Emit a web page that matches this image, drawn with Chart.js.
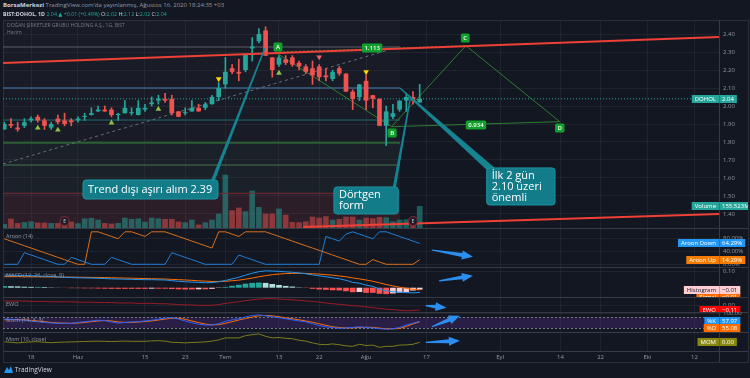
<!DOCTYPE html>
<html>
<head>
<meta charset="utf-8">
<script src="https://cdn.jsdelivr.net/npm/chart.js@4.4.1/dist/chart.umd.min.js"></script>
<style>
html, body { margin: 0; padding: 0; background: #131722; width: 750px; height: 378px; overflow: hidden; font-family: 'Open Sans', 'DejaVu Sans', sans-serif; }
#wrap { position: relative; width: 750px; height: 378px; }
canvas { position: absolute; left: 3px; }
.t { position: absolute; white-space: nowrap; color: #9598a1; font-size: 6px; line-height: 8px; }
.g { color: #26a69a; }
#frame { position: absolute; left: 3px; top: 20px; width: 744px; height: 341px; border: 1px solid #2a2e39; box-sizing: content-box; }
.sep { position: absolute; left: 3px; width: 745px; height: 1px; background: #363a45; }
#axisline { position: absolute; left: 719px; top: 20px; width: 1px; height: 342px; background: #363a45; }
</style>
</head>
<body>
<div id="wrap">
  <div id="frame"></div>
  <div class="sep" style="top:228px"></div>
  <div class="sep" style="top:267px"></div>
  <div class="sep" style="top:297px"></div>
  <div class="sep" style="top:312px"></div>
  <div class="sep" style="top:332px"></div>
  <div class="sep" style="top:351px"></div>
  <div id="axisline"></div>

  <canvas id="mainChart" width="745" height="208" style="top:20px"></canvas>
  <canvas id="aroonChart" width="745" height="39" style="top:228px"></canvas>
  <canvas id="macdChart" width="745" height="30" style="top:267px"></canvas>
  <canvas id="ewoChart" width="745" height="15" style="top:297px"></canvas>
  <canvas id="stochChart" width="745" height="20" style="top:312px"></canvas>
  <canvas id="momChart" width="745" height="30" style="top:332px"></canvas>

  <div class="t" style="left:3px;top:1px;font-size:6px"><b style="color:#d1d4dc">BorsaMerkezi</b> TradingView.com'da yayınlanmış, Ağustos 16, 2020 18:24:35 +03</div>
  <div class="t" style="left:3px;top:10px;color:#d1d4dc;font-size:5.3px"><b>BIST:DOHOL, 1D</b> <span class="g">2.04 ▲ +0.01 (+0.49%)</span> O:<span class="g">2.02</span> H:<span class="g">2.12</span> L:<span class="g">2.02</span> C:<span class="g">2.04</span></div>
  <div class="t" style="left:7px;top:21px;font-size:5px;color:#787b86">DOĞAN ŞİRKETLER GRUBU HOLDİNG A.Ş., 1G, BIST</div>
  <div class="t" style="left:7px;top:28px;font-size:5px;color:#787b86">Hacim</div>
  <div class="t" style="left:6px;top:232px;font-size:5.5px">Aroon (14)</div>
  <div class="t" style="left:6px;top:271px;font-size:5.5px">MACD (12, 26, close, 9)</div>
  <div class="t" style="left:6px;top:300px;font-size:5.5px">EWO</div>
  <div class="t" style="left:6px;top:316px;font-size:5.5px">Stoch (14, 3, 3)</div>
  <div class="t" style="left:6px;top:335px;font-size:5.5px">Mom (10, close)</div>
  <div class="t" style="left:4px;top:366px;color:#d1d4dc;font-size:6.5px">
    <svg width="9" height="7" style="vertical-align:-1px"><path d="M0 7 L3 1 L5 4 L7 0 L9 7 Z" fill="#2196f3"/></svg> TradingView
  </div>
</div>

<script>
// ---- price data (daily candles, BIST:DOHOL) ----
const opens  = [1.87,1.90,1.88,1.89,1.92,1.94,1.92,1.88,1.93,1.92,1.92,1.92,1.94,1.95,1.97,1.98,1.98,1.95,1.96,1.96,1.95,1.98,2.01,2.03,2.04,2.04,1.97,1.96,1.97,1.99,1.99,2.01,2.05,2.12,2.21,2.19,2.20,2.32,2.36,2.42,2.27,2.23,2.26,2.27,2.24,2.22,2.21,2.22,2.17,2.15,2.21,2.18,2.08,2.05,2.14,2.06,2.04,1.89,1.94,1.98,2.03,2.05,2.02];
const highs  = [1.91,1.93,1.91,1.93,1.94,1.95,1.93,1.91,1.95,1.96,1.93,1.94,1.96,1.99,2.00,2.00,1.99,1.96,2.03,1.99,2.03,2.01,2.05,2.06,2.07,2.06,1.97,1.99,2.03,2.01,2.02,2.06,2.13,2.27,2.23,2.26,2.29,2.38,2.43,2.44,2.27,2.28,2.28,2.28,2.25,2.23,2.25,2.23,2.21,2.20,2.22,2.18,2.09,2.12,2.17,2.06,2.04,2.00,2.01,2.03,2.07,2.08,2.12];
const lows   = [1.87,1.88,1.86,1.88,1.91,1.91,1.87,1.87,1.90,1.89,1.89,1.91,1.92,1.95,1.97,1.97,1.94,1.92,1.96,1.95,1.95,1.97,2.00,2.01,2.02,1.95,1.94,1.95,1.97,1.97,1.98,2.01,2.03,2.10,2.18,2.14,2.19,2.25,2.35,2.28,2.16,2.22,2.23,2.22,2.20,2.18,2.12,2.14,2.14,2.14,2.17,2.08,1.98,2.03,1.98,1.99,1.89,1.78,1.93,1.97,1.97,2.01,2.02];
const closes = [1.90,1.89,1.87,1.91,1.93,1.92,1.89,1.90,1.91,1.90,1.91,1.93,1.94,1.96,1.98,1.97,1.95,1.95,1.99,1.96,1.99,1.99,2.02,2.04,2.03,1.96,1.94,1.96,1.99,1.97,2.01,2.05,2.10,2.19,2.19,2.18,2.29,2.33,2.40,2.28,2.20,2.27,2.24,2.23,2.22,2.19,2.17,2.16,2.16,2.19,2.18,2.08,2.04,2.12,2.03,2.04,1.89,1.97,1.96,2.03,2.05,2.03,2.04];
// volume in millions
const volumes = [28,66,35,42,47,38,38,35,35,40,45,33,68,71,59,35,31,35,73,64,68,45,73,68,64,64,45,40,59,24,40,59,101,377,125,144,118,264,148,101,101,137,94,42,40,47,80,73,83,59,64,80,80,59,73,68,78,75,47,59,61,55,155.523];

// ---- indicators ----
const aroonUp   = [78.6,71.4,64.3,57.1,50,42.9,35.7,28.6,21.4,14.3,7.1,0,0,100,100,92.9,85.7,78.6,100,100,92.9,85.7,100,100,100,92.9,85.7,78.6,71.4,64.3,57.1,50,100,100,92.9,85.7,100,100,100,100,92.9,85.7,78.6,71.4,64.3,57.1,50,42.9,35.7,28.6,21.4,14.3,7.1,0,0,14.3,7.1,0,0,0,0,0,14.29];
const aroonDown = [0,0,0,35.7,28.6,21.4,14.3,7.1,0,0,21.4,14.3,7.1,0,0,0,21.4,14.3,7.1,0,0,0,0,0,0,35.7,28.6,21.4,14.3,7.1,0,0,0,0,0,28.6,21.4,14.3,7.1,0,0,0,0,0,0,0,0,0,85.7,78.6,71.4,92.9,100,92.9,85.7,78.6,100,100,92.9,85.7,78.6,71.4,64.29];
const macdLine   = [.079,.078,.077,.076,.075,.073,.071,.069,.067,.065,.063,.062,.061,.060,.059,.057,.055,.054,.053,.052,.051,.050,.050,.049,.048,.044,.040,.037,.035,.033,.031,.032,.037,.045,.055,.065,.078,.090,.100,.105,.104,.102,.099,.096,.092,.087,.080,.074,.068,.062,.056,.046,.033,.028,.016,.008,-.008,-.020,-.025,-.028,-.031,-.032,-.030];
const signalLine = [.069,.069,.069,.068,.068,.068,.067,.067,.066,.066,.066,.065,.065,.064,.064,.063,.062,.061,.060,.059,.058,.057,.056,.055,.054,.052,.050,.048,.046,.043,.041,.039,.039,.040,.043,.047,.053,.060,.068,.075,.081,.085,.088,.089,.090,.089,.087,.085,.081,.078,.073,.068,.061,.055,.048,.040,.030,.020,.011,.003,-.004,-.010,-.014];
const histogram  = [.010,.009,.008,.006,.005,.005,.004,.002,.001,-.001,-.003,-.003,-.004,-.004,-.005,-.006,-.007,-.007,-.007,-.007,-.007,-.007,-.006,-.006,-.006,-.008,-.010,-.011,-.011,-.010,-.010,-.007,-.002,.005,.012,.018,.025,.030,.032,.030,.023,.017,.011,.007,.002,-.002,-.007,-.011,-.013,-.016,-.017,-.022,-.028,-.027,-.032,-.032,-.038,-.040,-.036,-.031,-.027,-.018,-.012];
const ewo    = [.12,.12,.12,.12,.11,.11,.11,.10,.10,.10,.10,.09,.09,.09,.08,.08,.08,.07,.07,.07,.06,.06,.06,.05,.05,.04,.03,.02,.02,.01,.01,.01,.03,.06,.08,.10,.13,.15,.17,.18,.18,.17,.16,.15,.14,.12,.11,.09,.07,.05,.035,.02,.0,-.01,-.03,-.05,-.07,-.09,-.10,-.12,-.13,-.125,-.11];
const stochK = [69,68,66,64,60,56,52,49,47,48,47,52,56,60,64,62,55,48,52,55,56,60,64,70,76,78,70,60,50,42,38,38,45,58,66,72,82,90,93,88,82,78,72,66,60,55,45,35,28,24,20,22,25,28,24,22,18,15,17,25,38,48,57.97];
const stochD = [66,67,67,66,63,60,56,52,49,48,47,49,52,56,60,62,60,55,52,52,54,57,60,65,70,75,75,69,60,51,43,39,40,47,56,65,73,81,88,90,88,83,77,72,66,60,53,45,36,29,24,22,22,25,26,25,21,18,17,19,30,44,55.08];
const mom    = [.02,.00,-.03,.00,.02,.03,.00,-.02,.00,.01,.02,.03,.04,.05,.06,.05,.04,.05,.06,.05,.05,.05,.07,.08,.06,.00,-.01,-.03,-.01,.00,.02,.06,.12,.22,.22,.22,.33,.38,.42,.30,.22,.24,.20,.18,.10,.06,-.03,-.10,-.12,-.08,-.12,-.18,-.20,-.10,-.16,-.14,-.25,-.20,-.20,-.14,-.13,-.10,.00];

// ---- axis ticks ----
const xTickIdx    = [4, 11, 21, 27, 33, 41, 47, 54, 63, 74, 83, 89, 96, 103];
const xTickLabels = ['18', 'Haz', '15', '23', 'Tem', '13', '22', 'Ağu', '17', 'Eyl', '14', '22', 'Eki', '12'];
const priceTicks  = [1.40, 1.50, 1.60, 1.70, 1.80, 1.90, 2.00, 2.10, 2.20, 2.30, 2.40];
const X_MIN = -0.19, X_MAX = 106.67;

// ---- drawings on the price pane (index, price) ----
const levelPrices = [2.328, 2.10, 1.922, 1.796, 1.672, 1.515];
const zoneEnd = 59.06;
const upperTrend = [[X_MIN, 2.239], [X_MAX, 2.383]];
const lowerTrend = [[44.6, 1.328], [X_MAX, 1.40]];
const dashedTrend = [[X_MIN, 1.678], [57.3, 2.311]];
const patA = [40.4, 2.30], patB = [57.8, 1.885], patC = [68.9, 2.335], patD = [82.9, 1.913];
const upSignalIdx = [5, 8, 16, 23, 41], upSignalPrice = [1.878, 1.867, 1.906, 1.983, 2.183];
const downSignalIdx = [32, 54], downSignalPrice = [2.15, 2.189];
const redSignalIdx = [47], redSignalPrice = [2.272];
const earningsIdx = [9, 61];

Chart.defaults.font.family = "'Open Sans', 'DejaVu Sans', sans-serif";
Chart.defaults.animation = false;
Chart.defaults.events = [];
Chart.defaults.plugins.legend.display = false;
Chart.defaults.plugins.tooltip.enabled = false;

const gridColor = 'rgba(54,58,69,0.35)';
const idx = closes.map((c, i) => i);
const isUp = closes.map((c, i) => c >= opens[i]);
const candleColor = isUp.map(u => u ? '#26a69a' : '#ef5350');
const volColor = isUp.map(u => u ? 'rgba(38,166,154,0.5)' : 'rgba(239,83,80,0.5)');

function xScale(showTicks) {
    return {
        type: 'linear', min: X_MIN, max: X_MAX, offset: false,
        afterBuildTicks: s => { s.ticks = xTickIdx.map(v => ({ value: v })); },
        afterFit: s => { s.height = showTicks ? 11 : 0; s.paddingLeft = 0; s.paddingRight = 0; },
        grid: { color: gridColor, drawTicks: false, offset: false },
        border: { display: false },
        ticks: { display: showTicks, autoSkip: false, maxRotation: 0, padding: 3, color: '#9598a1', font: { size: 6 },
                 callback: (v, i) => xTickLabels[i] }
    };
}

function yScale(min, max, ticks, fmt) {
    return {
        type: 'linear', position: 'right', min: min, max: max,
        afterBuildTicks: s => { s.ticks = ticks.map(v => ({ value: v })); },
        afterFit: s => { s.width = 29; s.paddingTop = 0; s.paddingBottom = 0; },
        grid: { color: gridColor, drawTicks: false },
        border: { display: false },
        ticks: { color: '#9598a1', font: { size: 6 }, padding: 4, callback: fmt }
    };
}

function seg(points, color, width, dash, order) {
    return { type: 'line', data: points.map(p => ({ x: p[0], y: p[1] })), borderColor: color, borderWidth: width,
             borderDash: dash || [], pointRadius: 0, tension: 0, order: order };
}

function fmtSigned(v) { return (v < 0 ? '\u2212' : '') + Math.abs(v).toFixed(2); }

// value label on the right axis
function drawTag(ctx, ch, yPix, name, val, bg, fg) {
    const ax = ch.chartArea.right;
    ctx.save();
    ctx.font = "6px 'Open Sans'";
    const wn = ctx.measureText(name).width + 6;
    const wv = ctx.measureText(val).width + 6;
    const top = Math.round(yPix - 4);
    ctx.fillStyle = bg;
    ctx.fillRect(ax - wn, top, wn + wv, 8);
    ctx.fillStyle = 'rgba(0,0,0,0.2)';
    ctx.fillRect(ax, top, 1, 8);
    ctx.fillStyle = fg;
    ctx.textBaseline = 'middle';
    ctx.fillText(name, ax - wn + 3, top + 4.3);
    ctx.fillText(val, ax + 3, top + 4.3);
    ctx.restore();
}

function drawArrow(ctx, x0, y0, x1, y1) {
    const L = Math.hypot(x1 - x0, y1 - y0), ux = (x1 - x0) / L, uy = (y1 - y0) / L, nx = -uy, ny = ux;
    const hl = 11, hw = 4.5, s0 = 0.6, s1 = 2;
    const bx = x1 - ux * hl, by = y1 - uy * hl;
    ctx.fillStyle = '#2a8ff0';
    ctx.beginPath();
    ctx.moveTo(x0 + nx * s0, y0 + ny * s0);
    ctx.lineTo(bx + nx * s1, by + ny * s1);
    ctx.lineTo(bx + nx * hw, by + ny * hw);
    ctx.lineTo(x1, y1);
    ctx.lineTo(bx - nx * hw, by - ny * hw);
    ctx.lineTo(bx - nx * s1, by - ny * s1);
    ctx.lineTo(x0 - nx * s0, y0 - ny * s0);
    ctx.closePath();
    ctx.fill();
}

function arrowPlugin(from, to) {
    return {
        id: 'arrow',
        afterDatasetsDraw(ch) {
            const x = ch.scales.x, y = ch.scales.y;
            ch.ctx.save();
            drawArrow(ch.ctx, x.getPixelForValue(from[0]), y.getPixelForValue(from[1]), x.getPixelForValue(to[0]), y.getPixelForValue(to[1]));
            ch.ctx.restore();
        }
    };
}

function tagPlugin(tags) {
    return {
        id: 'tags',
        afterDraw(ch) {
            tags.forEach(t => drawTag(ch.ctx, ch, ch.scales[t.axis || 'y'].getPixelForValue(t.value) + (t.shift || 0), t.name, t.text, t.bg, t.fg || '#ffffff'));
        }
    };
}

function roundBox(ctx, x, y, w, h, r) {
    ctx.beginPath();
    ctx.roundRect(x, y, w, h, r);
}

// ---- price pane ----
const callouts = [
    { lines: ['Trend dışı aşırı alım 2.39'], box: [11.75, 31.9, 1.589, 1.483], base: [31.1, 1.583], tip: [38.9, 2.322], w: 1.8 },
    { lines: ['Dörtgen', 'form'], box: [49.2, 58.8, 1.55, 1.40], base: [58.2, 1.544], tip: [60.6, 2.044], w: 1.6 },
    { lines: ['İlk 2 gün', '2.10 üzeri', 'önemli'], box: [72.0, 82.2, 1.656, 1.45], base: [72.8, 1.644], tip: [59.06, 2.10], w: 3.5 }
];
const patternLabels = [
    { text: 'A', at: [40.85, 2.328] }, { text: 'B', at: [57.9, 1.85] },
    { text: 'C', at: [68.8, 2.378] }, { text: 'D', at: [82.9, 1.878] },
    { text: '1.113', at: [54.9, 2.322] }, { text: '0.934', at: [70.4, 1.894] }
];

const mainDeco = {
    id: 'mainDeco',
    beforeDatasetsDraw(ch) {
        const ctx = ch.ctx, a = ch.chartArea, x = ch.scales.x, y = ch.scales.y;
        const xe = x.getPixelForValue(zoneEnd);
        ctx.save();
        ctx.fillStyle = 'rgba(134,137,147,0.05)';
        ctx.fillRect(a.left, a.top, xe - a.left, a.height);
        let y0 = y.getPixelForValue(levelPrices[3]), y1 = y.getPixelForValue(levelPrices[5]);
        ctx.fillStyle = 'rgba(76,175,80,0.035)';
        ctx.fillRect(a.left, y0, xe - a.left, y1 - y0);
        ctx.fillStyle = 'rgba(242,54,69,0.09)';
        ctx.fillRect(a.left, y1, xe - a.left, a.bottom - y1);
        ctx.restore();
    },
    afterDatasetsDraw(ch) {
        const ctx = ch.ctx, x = ch.scales.x, y = ch.scales.y;
        ctx.save();
        // earnings markers
        earningsIdx.forEach(i => {
            const cx = x.getPixelForValue(i), cy = y.getPixelForValue(1.361);
            ctx.beginPath(); ctx.arc(cx, cy, 4.5, 0, Math.PI * 2);
            ctx.fillStyle = '#1e1d29'; ctx.fill();
            ctx.lineWidth = 1.2; ctx.strokeStyle = '#7a2c36'; ctx.stroke();
            ctx.fillStyle = '#c9ccd4'; ctx.font = "5px 'Open Sans'"; ctx.textAlign = 'center'; ctx.textBaseline = 'middle';
            ctx.fillText('E', cx, cy + 0.3);
        });
        // pattern labels
        ctx.font = "600 6px 'Open Sans'";
        patternLabels.forEach(p => {
            const cx = x.getPixelForValue(p.at[0]), cy = y.getPixelForValue(p.at[1]);
            const w = ctx.measureText(p.text).width + 5;
            roundBox(ctx, cx - w / 2, cy - 4.5, w, 9, 1.5);
            ctx.fillStyle = '#12a02c'; ctx.fill();
            ctx.fillStyle = '#ffffff'; ctx.textAlign = 'center'; ctx.textBaseline = 'middle';
            ctx.fillText(p.text, cx, cy + 0.3);
        });
        // callouts
        callouts.forEach(c => {
            const bx = x.getPixelForValue(c.base[0]), by = y.getPixelForValue(c.base[1]);
            const tx = x.getPixelForValue(c.tip[0]), ty = y.getPixelForValue(c.tip[1]);
            const ang = Math.atan2(ty - by, tx - bx), nx = -Math.sin(ang), ny = Math.cos(ang);
            ctx.fillStyle = '#168391';
            ctx.beginPath();
            ctx.moveTo(bx + nx * c.w, by + ny * c.w);
            ctx.lineTo(tx + nx * 0.7, ty + ny * 0.7);
            ctx.lineTo(tx - nx * 0.7, ty - ny * 0.7);
            ctx.lineTo(bx - nx * c.w, by - ny * c.w);
            ctx.closePath(); ctx.fill();
            const x0 = x.getPixelForValue(c.box[0]), x1 = x.getPixelForValue(c.box[1]);
            const y0 = y.getPixelForValue(c.box[2]), y1 = y.getPixelForValue(c.box[3]);
            roundBox(ctx, x0, y0, x1 - x0, y1 - y0, 3);
            ctx.fillStyle = '#137c89'; ctx.fill();
            ctx.lineWidth = 1; ctx.strokeStyle = '#1d93a2'; ctx.stroke();
            ctx.fillStyle = '#ffffff'; ctx.font = "11px 'Open Sans'"; ctx.textAlign = 'left'; ctx.textBaseline = 'middle';
            const lh = 11, mid = (y0 + y1) / 2, first = mid - (c.lines.length - 1) * lh / 2;
            c.lines.forEach((s, k) => ctx.fillText(s, x0 + 5, first + k * lh));
        });
        ctx.restore();
    }
};

const levelColors = ['#5d606b', '#4a7fb5', '#1f6e6e', '#2b5e36', '#4a7456', '#7a2b34'];
const levelWidths = [1, 1, 1, 2, 1, 1];
const levelSets = levelPrices.map((p, k) => seg([[X_MIN, p], [zoneEnd, p]], levelColors[k], levelWidths[k], [], 8));

new Chart(document.getElementById('mainChart'), {
    type: 'bar',
    data: {
        datasets: [
            { type: 'bar', data: volumes.map((v, i) => ({ x: i, y: v })), yAxisID: 'yv', backgroundColor: volColor,
              barPercentage: 0.84, categoryPercentage: 1, grouped: false, order: 9 },
            ...levelSets,
            seg([[X_MIN, closes[62]], [X_MAX, closes[62]]], '#26a69a', 1, [1, 2], 7),
            seg(dashedTrend, '#6a6d78', 1, [3, 3], 6),
            seg([patA, patC], '#2e7d32', 1, [2, 2], 5),
            seg([patA, patB, patC, patD], '#2e7d32', 1, [], 5),
            seg([patB, patD], '#2e7d32', 1, [], 5),
            { type: 'bar', data: idx.map(i => ({ x: i, y: [lows[i], highs[i]] })), backgroundColor: candleColor,
              barThickness: 1, grouped: false, order: 4 },
            { type: 'bar', data: idx.map(i => ({ x: i, y: [opens[i], closes[i]] })), backgroundColor: candleColor,
              barPercentage: 0.7, categoryPercentage: 1, grouped: false, minBarLength: 1, order: 3 },
            seg(upperTrend, '#ef4136', 2, [], 2),
            seg(lowerTrend, '#ef4136', 2, [], 2),
            { type: 'scatter', data: upSignalIdx.map((v, k) => ({ x: v, y: upSignalPrice[k] })), pointStyle: 'triangle',
              radius: 3.3, backgroundColor: '#8bc34a', borderWidth: 0, order: 1 },
            { type: 'scatter', data: downSignalIdx.map((v, k) => ({ x: v, y: downSignalPrice[k] })), pointStyle: 'triangle',
              rotation: 180, radius: 3.3, backgroundColor: '#ffd600', borderWidth: 0, order: 1 },
            { type: 'scatter', data: redSignalIdx.map((v, k) => ({ x: v, y: redSignalPrice[k] })), pointStyle: 'triangle',
              rotation: 180, radius: 3.3, backgroundColor: '#f2606a', borderWidth: 0, order: 1 }
        ]
    },
    options: {
        responsive: false, devicePixelRatio: 1,
        layout: { padding: 0, autoPadding: false },
        scales: {
            x: xScale(false),
            y: yScale(1.322, 2.478, priceTicks, v => v.toFixed(2)),
            yv: { type: 'linear', display: false, min: 0, max: 1470 }
        }
    },
    plugins: [mainDeco, tagPlugin([
        { value: closes[62], name: 'DOHOL', text: closes[62].toFixed(2), bg: '#26a69a' },
        { axis: 'yv', value: volumes[62], name: 'Volume', text: volumes[62].toFixed(3) + 'M', bg: '#26a69a' }
    ])]
});

// ---- Aroon ----
new Chart(document.getElementById('aroonChart'), {
    type: 'line',
    data: {
        datasets: [
            { data: aroonUp.map((v, i) => ({ x: i, y: v })), borderColor: '#d9701c', borderWidth: 1, pointRadius: 0 },
            { data: aroonDown.map((v, i) => ({ x: i, y: v })), borderColor: '#1f7fd6', borderWidth: 1, pointRadius: 0 }
        ]
    },
    options: {
        responsive: false, devicePixelRatio: 1, layout: { padding: 0, autoPadding: false },
        scales: { x: xScale(false), y: yScale(-8.3, 111.7, [0, 40, 80], v => v.toFixed(2) + '%') }
    },
    plugins: [arrowPlugin([63.8, 44], [69.95, 23.4]), tagPlugin([
        { value: aroonDown[62], name: 'Aroon Down', text: aroonDown[62].toFixed(2) + '%', bg: '#2196f3' },
        { value: aroonUp[62], name: 'Aroon Up', text: aroonUp[62].toFixed(2) + '%', bg: '#f57c00' }
    ])]
});

// ---- MACD ----
const histColor = histogram.map((v, i) => {
    const prev = i > 0 ? histogram[i - 1] : v;
    if (v >= 0) return v >= prev ? '#26a69a' : '#b2dfdb';
    return v <= prev ? '#ff5252' : '#ffcdd2';
});
new Chart(document.getElementById('macdChart'), {
    type: 'bar',
    data: {
        datasets: [
            { type: 'bar', data: histogram.map((v, i) => ({ x: i, y: v })), backgroundColor: histColor,
              barPercentage: 0.85, categoryPercentage: 1, grouped: false, order: 3 },
            { type: 'line', data: macdLine.map((v, i) => ({ x: i, y: v })), borderColor: '#2196f3', borderWidth: 1, pointRadius: 0, order: 1 },
            { type: 'line', data: signalLine.map((v, i) => ({ x: i, y: v })), borderColor: '#ff6d00', borderWidth: 1, pointRadius: 0, order: 2 }
        ]
    },
    options: {
        responsive: false, devicePixelRatio: 1, layout: { padding: 0, autoPadding: false },
        scales: { x: xScale(false), y: yScale(-0.058, 0.129, [0.10], v => v.toFixed(2)) }
    },
    plugins: [arrowPlugin([64.9, 0.042], [69.95, 0.075]), tagPlugin([
        { value: signalLine[62], shift: 7, name: 'Signal', text: fmtSigned(signalLine[62]), bg: '#ff6d00' },
        { value: histogram[62], name: 'Histogram', text: fmtSigned(histogram[62]), bg: '#ffcdd2', fg: '#131722' }
    ])]
});

// ---- EWO ----
new Chart(document.getElementById('ewoChart'), {
    type: 'line',
    data: { datasets: [{ data: ewo.map((v, i) => ({ x: i, y: v })), borderColor: '#9b1c22', borderWidth: 1, pointRadius: 0 }] },
    options: {
        responsive: false, devicePixelRatio: 1, layout: { padding: 0, autoPadding: false },
        scales: { x: xScale(false), y: yScale(-0.162, 0.223, [0], v => v.toFixed(2)) }
    },
    plugins: [arrowPlugin([62.9, 0], [66.0, -0.051]), tagPlugin([
        { value: ewo[62], name: 'EWO', text: fmtSigned(ewo[62]), bg: '#ff0000' }
    ])]
});

// ---- Stoch ----
const stochBand = {
    id: 'stochBand',
    beforeDatasetsDraw(ch) {
        const ctx = ch.ctx, a = ch.chartArea, y = ch.scales.y;
        const y80 = y.getPixelForValue(80), y20 = y.getPixelForValue(20);
        ctx.save();
        ctx.fillStyle = 'rgba(120,60,200,0.22)';
        ctx.fillRect(a.left, y80, a.width, y20 - y80);
        ctx.strokeStyle = '#787b86'; ctx.lineWidth = 1; ctx.setLineDash([2, 2]);
        [y80, y20].forEach(v => { ctx.beginPath(); ctx.moveTo(a.left, Math.round(v) + 0.5); ctx.lineTo(a.right, Math.round(v) + 0.5); ctx.stroke(); });
        ctx.restore();
    }
};
new Chart(document.getElementById('stochChart'), {
    type: 'line',
    data: {
        datasets: [
            { data: stochK.map((v, i) => ({ x: i, y: v })), borderColor: '#2962ff', borderWidth: 1, pointRadius: 0 },
            { data: stochD.map((v, i) => ({ x: i, y: v })), borderColor: '#ff6d00', borderWidth: 1, pointRadius: 0 }
        ]
    },
    options: {
        responsive: false, devicePixelRatio: 1, layout: { padding: 0, autoPadding: false },
        scales: { x: xScale(false), y: yScale(0, 108.7, [100], v => v.toFixed(2)) }
    },
    plugins: [stochBand, arrowPlugin([63.8, 28.8], [68.0, 88.6]), tagPlugin([
        { value: stochK[62], name: '%K', text: stochK[62].toFixed(2), bg: '#2196f3' },
        { value: stochD[62], shift: 6.5, name: '%D', text: stochD[62].toFixed(2), bg: '#ff6d00' }
    ])]
});

// ---- Momentum + time axis ----
new Chart(document.getElementById('momChart'), {
    type: 'line',
    data: { datasets: [{ data: mom.map((v, i) => ({ x: i, y: v })), borderColor: '#7d7d1c', borderWidth: 1, pointRadius: 0 }] },
    options: {
        responsive: false, devicePixelRatio: 1, layout: { padding: 0, autoPadding: false },
        scales: { x: xScale(true), y: yScale(-0.435, 0.515, [], v => v.toFixed(2)) }
    },
    plugins: [arrowPlugin([62.9, 0], [68.0, 0.08]), tagPlugin([
        { value: mom[62], name: 'MOM', text: mom[62].toFixed(2), bg: '#878712' }
    ])]
});
</script>
</body>
</html>
